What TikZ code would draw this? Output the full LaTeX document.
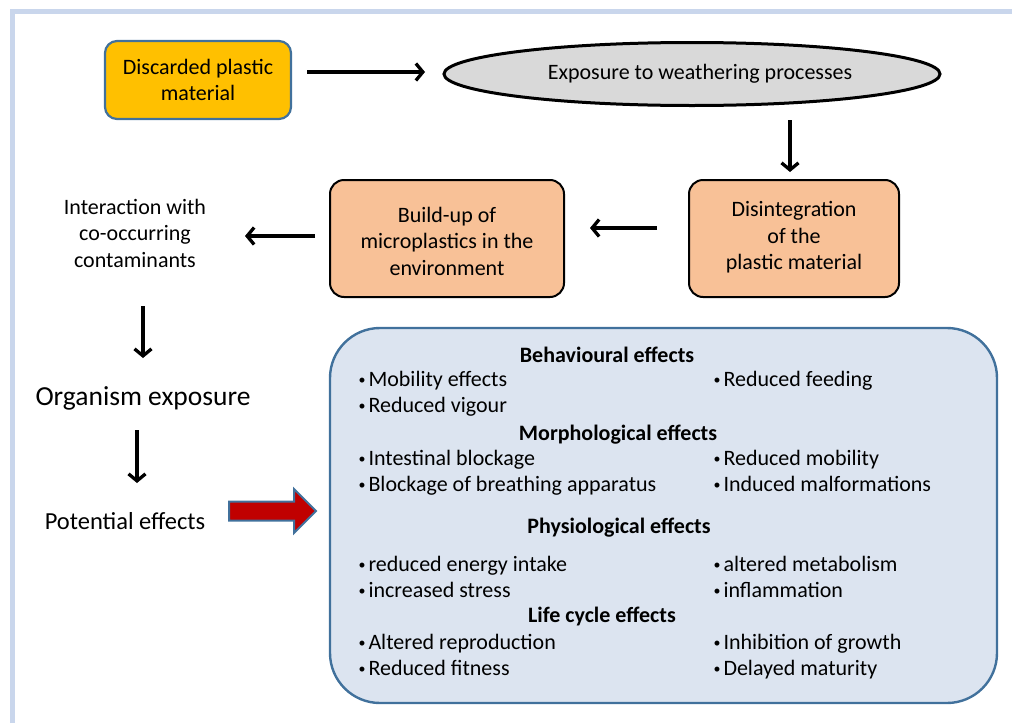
\documentclass[tikz,border=0pt]{standalone}
\usepackage{fontspec}
\setmainfont{Carlito}
\usetikzlibrary{arrows.meta,shapes.geometric,calc}
\definecolor{framec}{HTML}{C9D6EC}
\definecolor{goldc}{HTML}{FFC000}
\definecolor{bluebd}{HTML}{41719C}
\definecolor{peach}{HTML}{F8C197}
\definecolor{greyf}{HTML}{D9D9D9}
\definecolor{boxbg}{HTML}{DCE4F0}
\definecolor{redc}{HTML}{C00000}
\newcommand{\bul}{\raisebox{1.8pt}{\fontsize{14}{14}\selectfont•}\hspace{3pt}}
\tikzset{
  arr/.style={line width=3.3pt,-{Straight Barb[length=7pt,width=17pt]}},
  peachbox/.style={draw=black,line width=2pt,fill=peach,rounded corners=14pt,align=center,font=\fontsize{22}{26.5}\selectfont},
  plain/.style={align=center,font=\fontsize{22}{26.5}\selectfont},
  head/.style={anchor=base,font=\fontsize{22}{24}\selectfont\bfseries},
  item/.style={anchor=base west,font=\fontsize{22}{24}\selectfont},
}
\begin{document}
\begin{tikzpicture}[x=1pt,y=-1pt]
\useasboundingbox (0,0) rectangle (1012,723);
% frame
\draw[framec,line width=5pt] (12,723) -- (12,11) -- (1012,11);
% nodes
\node[draw=bluebd,line width=2.2pt,fill=goldc,rounded corners=12pt,minimum width=186pt,minimum height=78pt,align=center,font=\fontsize{22}{26}\selectfont] (disc) at (198,80) {Discarded plastic\\material};
\node[ellipse,draw=black,line width=3pt,fill=greyf,minimum width=496pt,minimum height=63pt,inner sep=0pt,font=\fontsize{22}{24}\selectfont] (ell) at (692,74) {\hspace*{16pt}Exposure to weathering processes};
\node[peachbox,minimum width=210pt,minimum height=117pt] (dis) at (794,238.5) {Disintegration\\of the\\plastic material\\[-21pt]\mbox{}};
\node[peachbox,minimum width=234pt,minimum height=117pt] (build) at (447,238.5) {\\[-6pt]Build-up of\\microplastics in the\\environment};
\node[plain] (inter) at (135,233) {Interaction with\\co-occurring\\contaminants};
\node[font=\fontsize{27.5}{30}\selectfont] (org) at (143,398) {Organism exposure};
\node[font=\fontsize{24.5}{27}\selectfont] (pot) at (125,521) {Potential effects};
\node[draw=bluebd,line width=2.4pt,fill=boxbg,rounded corners=50pt,minimum width=667pt,minimum height=375pt] (big) at (663.5,515.5) {};
% connectors
\draw[arr] ($(disc.center)+(109,-8)$) -- ($(ell.center)+(-267,-2)$);
\draw[arr] ($(ell.center)+(98,46)$) -- ($(dis.center)+(-4,-66.5)$);
\draw[arr] ($(dis.center)+(-137,-10.5)$) -- ($(build.center)+(143,-10.5)$);
\draw[arr] ($(build.center)+(-132,-2.5)$) -- ($(inter.center)+(110,3)$);
\draw[arr] ($(inter.center)+(8,73)$) -- ($(org.center)+(0,-40)$);
\draw[arr] ($(org.center)+(-6,32)$) -- ($(pot.center)+(12,-38)$);
% red block arrow
\coordinate (ra) at ($(pot.center)+(104,-10)$);
\draw[bluebd,line width=2pt,fill=redc,line join=miter]
  (ra) ++(0,-9.5) -- ++(65,0) -- ++(0,-12.5) -- ++(22,22) -- ++(-22,22) -- ++(0,-12.5) -- ++(-65,0) -- cycle;
% box contents
\node[head] (h1) at (607,362.5) {Behavioural effects};
\node[item] (a1) at (355,386.5) {\bul Mobility effects};
\node[item] (a2) at (355,412.5) {\bul Reduced vigour};
\node[item] (b1) at (710,386.5) {\bul Reduced feeding};
\node[head] (h2) at (618,440.5) {Morphological effects};
\node[item] (a3) at (355,465.5) {\bul Intestinal blockage};
\node[item] (a4) at (355,491.5) {\bul Blockage of breathing apparatus};
\node[item] (b3) at (710,465.5) {\bul Reduced mobility};
\node[item] (b4) at (710,491.5) {\bul Induced malformations};
\node[head] (h3) at (619,533.5) {Physiological effects};
\node[item] (a5) at (355,571.5) {\bul reduced energy intake};
\node[item] (a6) at (355,597.5) {\bul increased stress};
\node[item] (b5) at (710,571.5) {\bul altered metabolism};
\node[item] (b6) at (710,597.5) {\bul inflammation};
\node[head] (h4) at (602,622.5) {Life cycle effects};
\node[item] (a7) at (355,649.5) {\bul Altered reproduction};
\node[item] (a8) at (355,675.5) {\bul Reduced fitness};
\node[item] (b7) at (710,649.5) {\bul Inhibition of growth};
\node[item] (b8) at (710,675.5) {\bul Delayed maturity};
\end{tikzpicture}
\end{document}
